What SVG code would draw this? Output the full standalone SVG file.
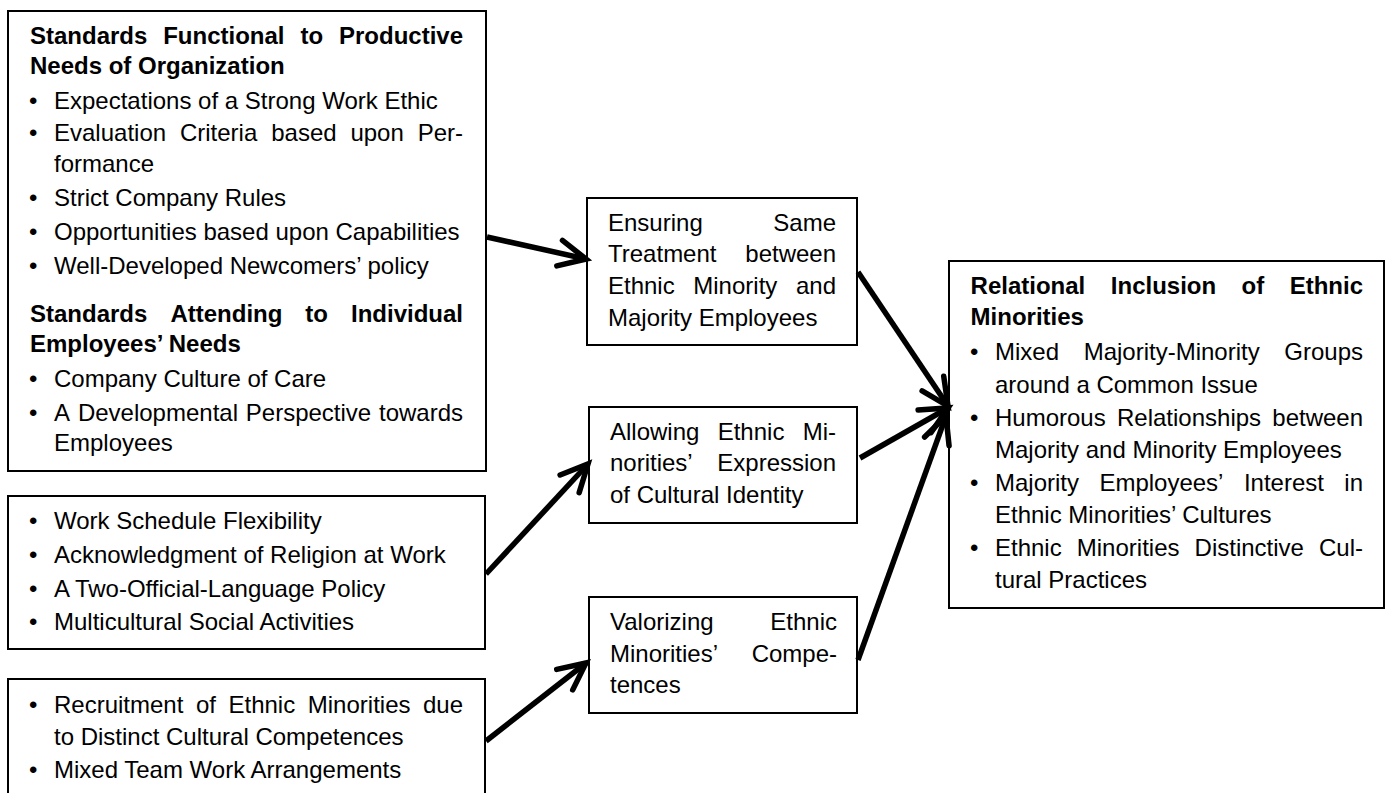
<svg xmlns="http://www.w3.org/2000/svg" width="1386" height="793" viewBox="0 0 1386 793">
<style>
text{font-family:"Liberation Sans",Arial,sans-serif;font-size:24px;fill:#000}
.b{font-weight:bold}
.box{fill:#fff;stroke:#000;stroke-width:2}
.arr{stroke:#000;stroke-width:5.5;fill:none;marker-end:url(#ah)}
</style>
<defs>
<marker id="ah" markerUnits="userSpaceOnUse" orient="auto" refX="0" refY="0" markerWidth="70" markerHeight="70" viewBox="-35 -35 70 70" overflow="visible">
<path d="M-27,-13 L0,0 L-27,13" fill="none" stroke="#000" stroke-width="5.5" stroke-linecap="round" stroke-linejoin="miter"/>
</marker>
</defs>
<rect width="1386" height="793" fill="#fff"/>
<g id="n1">
<rect class="box" x="8" y="11" width="478" height="460"/>
<text class="b" y="44"><tspan x="30">Standards </tspan><tspan x="163.2">Functional </tspan><tspan x="300.4">to </tspan><tspan x="339">Productive</tspan></text>
<text class="b" x="30" y="74">Needs of Organization</text>
<text x="29" y="109">•</text><text x="54" y="109">Expectations of a Strong Work Ethic</text>
<text x="29" y="141">•</text><text y="141"><tspan x="54">Evaluation </tspan><tspan x="179.9">Criteria </tspan><tspan x="271.2">based </tspan><tspan x="350.4">upon </tspan><tspan x="417.7">Per-</tspan></text>
<text x="54" y="172">formance</text>
<text x="29" y="206">•</text><text x="54" y="206">Strict Company Rules</text>
<text x="29" y="240">•</text><text x="54" y="240">Opportunities based upon Capabilities</text>
<text x="29" y="274">•</text><text x="54" y="274">Well-Developed Newcomers’ policy</text>
<text class="b" y="322"><tspan x="30">Standards </tspan><tspan x="170.4">Attending </tspan><tspan x="305.3">to </tspan><tspan x="351">Individual</tspan></text>
<text class="b" x="30" y="352">Employees’ Needs</text>
<text x="29" y="387">•</text><text x="54" y="387">Company Culture of Care</text>
<text x="29" y="421">•</text><text y="421"><tspan x="54">A </tspan><tspan x="77.9">Developmental </tspan><tspan x="245.8">Perspective </tspan><tspan x="379">towards</tspan></text>
<text x="54" y="451">Employees</text>
</g>
<g id="n2">
<rect class="box" x="8" y="496" width="477" height="153"/>
<text x="29" y="529">•</text><text x="54" y="529">Work Schedule Flexibility</text>
<text x="29" y="563">•</text><text x="54" y="563">Acknowledgment of Religion at Work</text>
<text x="29" y="597">•</text><text x="54" y="597">A Two-Official-Language Policy</text>
<text x="29" y="630">•</text><text x="54" y="630">Multicultural Social Activities</text>
</g>
<g id="n3">
<rect class="box" x="8" y="679" width="477" height="130"/>
<text x="29" y="713">•</text><text y="713"><tspan x="54">Recruitment </tspan><tspan x="195.9">of </tspan><tspan x="228.5">Ethnic </tspan><tspan x="307.8">Minorities </tspan><tspan x="423">due</tspan></text>
<text x="54" y="745">to Distinct Cultural Competences</text>
<text x="29" y="778">•</text><text x="54" y="778">Mixed Team Work Arrangements</text>
</g>
<g id="n4">
<rect class="box" x="587" y="198" width="270" height="147"/>
<text y="231"><tspan x="608">Ensuring </tspan><tspan x="773.3">Same</tspan></text>
<text y="262"><tspan x="608">Treatment </tspan><tspan x="745.3">between</tspan></text>
<text y="294"><tspan x="608">Ethnic </tspan><tspan x="693.3">Minority </tspan><tspan x="796">and</tspan></text>
<text x="608" y="326">Majority Employees</text>
</g>
<g id="n5">
<rect class="box" x="589" y="407" width="268" height="116"/>
<text y="440"><tspan x="610">Allowing </tspan><tspan x="717.7">Ethnic </tspan><tspan x="802.7">Mi-</tspan></text>
<text y="471"><tspan x="610">norities’ </tspan><tspan x="717.3">Expression</tspan></text>
<text x="610" y="503">of Cultural Identity</text>
</g>
<g id="n6">
<rect class="box" x="589" y="597" width="268" height="116"/>
<text y="630"><tspan x="610">Valorizing </tspan><tspan x="770.3">Ethnic</tspan></text>
<text y="662"><tspan x="610">Minorities’ </tspan><tspan x="751.7">Compe-</tspan></text>
<text x="610" y="693">tences</text>
</g>
<g id="n7">
<rect class="box" x="949" y="261" width="435" height="347"/>
<text class="b" y="294"><tspan x="970.6">Relational </tspan><tspan x="1110.8">Inclusion </tspan><tspan x="1241.6">of </tspan><tspan x="1289.7">Ethnic</tspan></text>
<text class="b" x="970.6" y="325">Minorities</text>
<text x="970" y="360">•</text><text y="360"><tspan x="995">Mixed </tspan><tspan x="1083.7">Majority-Minority </tspan><tspan x="1284.3">Groups</tspan></text>
<text x="995" y="393">around a Common Issue</text>
<text x="970" y="426">•</text><text y="426"><tspan x="995">Humorous </tspan><tspan x="1117">Relationships </tspan><tspan x="1272.3">between</tspan></text>
<text x="995" y="458">Majority and Minority Employees</text>
<text x="970" y="491">•</text><text y="491"><tspan x="995">Majority </tspan><tspan x="1099.4">Employees’ </tspan><tspan x="1243.9">Interest </tspan><tspan x="1344.3">in</tspan></text>
<text x="995" y="523">Ethnic Minorities’ Cultures</text>
<text x="970" y="556">•</text><text y="556"><tspan x="995">Ethnic </tspan><tspan x="1076.8">Minorities </tspan><tspan x="1194.6">Distinctive </tspan><tspan x="1319">Cul-</tspan></text>
<text x="995" y="588">tural Practices</text>
</g>
<g id="connectors">
<line class="arr" x1="487" y1="237" x2="586" y2="259"/>
<line class="arr" x1="858" y1="272" x2="948" y2="406"/>
<line class="arr" x1="860" y1="458" x2="948" y2="408"/>
<line class="arr" x1="858" y1="660" x2="946" y2="416"/>
<line class="arr" x1="486" y1="574" x2="588" y2="464"/>
<line class="arr" x1="486" y1="741" x2="586" y2="663"/>
</g>
</svg>
